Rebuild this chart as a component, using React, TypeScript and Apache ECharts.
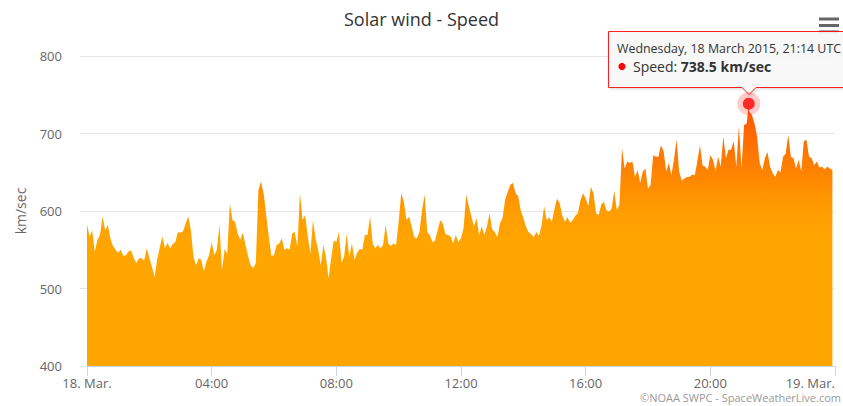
import React, { useEffect, useRef } from 'react';
import * as echarts from 'echarts';

const chartTitle = 'Solar wind - Speed';
const yAxisName = 'km/sec';
const seriesName = 'Speed';
const unit = 'km/sec';
const creditsText = '\u00A9NOAA SWPC - SpaceWeatherLive.com';
const tooltipHeader = 'Wednesday, 18 March 2015, 21:14 UTC';

// x axis in minutes since 18 March 2015 00:00 UTC
const xTickLabels = ['18. Mar.', '04:00', '08:00', '12:00', '16:00', '20:00', '19. Mar.'];
const xTickStepMinutes = 240;
const yMin = 400;
const yMax = 800;
const yStep = 100;

// 5-minute solar wind speed readings (km/sec), 00:00 .. 23:55
const stepMinutes = 5;
const speed = [
  583, 567, 575, 547, 563, 569, 593, 575, 582, 565, 555, 550,
  546, 550, 542, 543, 548, 549, 539, 533, 539, 539, 536, 552,
  540, 528, 515, 537, 553, 567, 552, 559, 552, 557, 560, 573,
  572, 574, 584, 593, 575, 541, 530, 539, 537, 522, 535, 543,
  560, 543, 550, 582, 524, 551, 545, 610, 588, 586, 571, 563,
  572, 556, 542, 530, 526, 533, 627, 638, 623, 595, 567, 542,
  543, 556, 558, 565, 550, 552, 550, 571, 573, 554, 623, 588,
  595, 567, 545, 588, 565, 550, 530, 556, 541, 513, 539, 562,
  560, 573, 533, 541, 571, 541, 558, 537, 546, 551, 550, 569,
  569, 593, 558, 552, 556, 552, 556, 582, 558, 555, 558, 556,
  586, 623, 612, 588, 593, 580, 566, 565, 573, 601, 621, 573,
  569, 560, 562, 575, 588, 584, 570, 569, 567, 558, 569, 560,
  565, 578, 621, 606, 593, 580, 591, 569, 580, 569, 580, 597,
  576, 573, 566, 584, 591, 615, 625, 634, 636, 623, 619, 601,
  591, 580, 573, 570, 566, 573, 568, 581, 606, 588, 592, 586,
  603, 616, 610, 594, 586, 592, 585, 588, 594, 597, 614, 623,
  616, 606, 631, 623, 597, 595, 608, 612, 601, 599, 603, 626,
  601, 608, 681, 655, 664, 662, 664, 644, 653, 636, 651, 655,
  629, 634, 672, 670, 670, 685, 677, 651, 662, 646, 666, 692,
  651, 639, 642, 644, 644, 647, 646, 664, 685, 659, 657, 653,
  672, 666, 652, 670, 657, 696, 668, 679, 679, 690, 657, 709,
  655, 711, 713, 728, 724, 713, 696, 662, 653, 668, 676, 657,
  649, 644, 653, 650, 670, 674, 698, 670, 668, 655, 666, 651,
  690, 692, 670, 668, 659, 664, 656, 657, 654, 657, 655, 653,
];

// highlighted reading (tooltip)
const peakMinute = 21 * 60 + 14;
const peakSpeed = 738.5;

const FONT = '"Open Sans", "DejaVu Sans", sans-serif';

export default function App() {
  const ref = useRef<HTMLDivElement>(null);

  useEffect(() => {
    if (!ref.current) return;
    const chart = echarts.init(ref.current, undefined, { renderer: 'svg' });

    const points: [number, number][] = speed.map((v, k) => [k * stepMinutes, v] as [number, number]);
    points.push([peakMinute, peakSpeed]);
    points.sort((a, b) => a[0] - b[0]);

    const areaGradient = {
      type: 'linear', x: 0, y: 0, x2: 0, y2: 1,
      colorStops: [
        { offset: 0, color: '#ff5400' },
        { offset: 0.12, color: '#ff6a00' },
        { offset: 0.27, color: '#ff8500' },
        { offset: 0.41, color: '#ff9d00' },
        { offset: 0.53, color: '#ffa500' },
        { offset: 1, color: '#ffa500' },
      ],
    };

    chart.setOption({
      animation: false,
      backgroundColor: '#ffffff',
      textStyle: { fontFamily: FONT },
      title: {
        text: chartTitle,
        left: 'center',
        top: 5,
        textStyle: { fontFamily: FONT, fontSize: 18, fontWeight: 'normal', color: '#333333' },
      },
      grid: { left: 87, right: 8, top: 56, bottom: 40, containLabel: false },
      xAxis: {
        type: 'value',
        min: 0,
        max: xTickStepMinutes * (xTickLabels.length - 1),
        interval: xTickStepMinutes,
        axisLine: { show: true, lineStyle: { color: '#ccd6eb', width: 1 } },
        axisTick: { show: true, length: 10, lineStyle: { color: '#ccd6eb' } },
        splitLine: { show: false },
        axisLabel: {
          margin: 10,
          color: '#666666',
          fontSize: 13,
          fontFamily: FONT,
          alignMaxLabel: 'right',
          formatter: (v: number) => xTickLabels[Math.round(v / xTickStepMinutes)] ?? '',
        },
      },
      yAxis: {
        type: 'value',
        min: yMin,
        max: yMax,
        interval: yStep,
        name: yAxisName,
        nameLocation: 'middle',
        nameRotate: 90,
        nameGap: 60,
        nameTextStyle: { color: '#666666', fontSize: 14, fontFamily: FONT },
        axisLine: { show: false },
        axisTick: { show: true, length: 7, lineStyle: { color: '#e6e6e6' } },
        splitLine: { show: true, lineStyle: { color: '#e6e6e6', width: 1 } },
        axisLabel: { margin: 25, color: '#666666', fontSize: 13, fontFamily: FONT },
      },
      series: [
        {
          name: seriesName,
          type: 'line',
          data: points,
          showSymbol: false,
          symbol: 'none',
          lineStyle: { width: 0 },
          itemStyle: { color: '#ffa500' },
          areaStyle: { color: areaGradient, opacity: 1 },
          silent: true,
          z: 2,
        },
        {
          type: 'scatter',
          data: [[peakMinute, peakSpeed]],
          symbolSize: 23,
          itemStyle: { color: 'rgba(255,0,0,0.25)' },
          silent: true,
          z: 3,
        },
        {
          type: 'scatter',
          data: [[peakMinute, peakSpeed]],
          symbolSize: 12,
          itemStyle: { color: '#ff0000' },
          silent: true,
          z: 4,
        },
      ],
    });

    const p = chart.convertToPixel({ gridIndex: 0 }, [peakMinute, peakSpeed]) as number[];
    const gx = Math.round(p[0]);
    const gy = Math.round(p[1]);

    chart.setOption({
      graphic: [
        {
          type: 'group',
          z: 10,
          children: [
            { type: 'rect', shape: { x: 819, y: 17.5, width: 20, height: 3 }, style: { fill: '#666666' } },
            { type: 'rect', shape: { x: 819, y: 24, width: 20, height: 3 }, style: { fill: '#666666' } },
            { type: 'rect', shape: { x: 819, y: 30.5, width: 20, height: 3 }, style: { fill: '#666666' } },
          ],
        },
        {
          type: 'text',
          right: 2,
          top: 392,
          z: 10,
          style: { text: creditsText, fill: '#999999', fontSize: 11, fontFamily: FONT },
        },
        {
          type: 'group',
          x: gx,
          y: gy,
          z: 20,
          children: [
            {
              type: 'polygon',
              shape: {
                points: [
                  [-140.5, -72.5], [120, -72.5], [120, -16.5], [7, -16.5], [0, -9.5], [-7, -16.5], [-140.5, -16.5],
                ],
              },
              style: {
                fill: 'rgba(249,249,249,0.92)',
                stroke: 'rgba(255,0,0,0.85)',
                lineWidth: 1,
                shadowBlur: 3,
                shadowOffsetX: 1,
                shadowOffsetY: 1,
                shadowColor: 'rgba(0,0,0,0.18)',
              },
            },
            {
              type: 'text',
              x: -132,
              y: -56,
              style: {
                text: tooltipHeader,
                fill: '#333333',
                fontSize: 12.4,
                fontFamily: FONT,
                verticalAlign: 'middle',
              },
            },
            { type: 'circle', shape: { cx: -127, cy: -37.5, r: 3.6 }, style: { fill: '#ff0000' } },
            {
              type: 'text',
              x: -116,
              y: -38,
              style: {
                text: `{a|${seriesName}: }{b|${peakSpeed} ${unit}}`,
                verticalAlign: 'middle',
                rich: {
                  a: { fontSize: 14, fontFamily: FONT, fill: '#333333', color: '#333333' },
                  b: { fontSize: 14, fontFamily: FONT, fontWeight: 'bold', fill: '#333333', color: '#333333' },
                },
              },
            },
          ],
        },
      ],
    });

    return () => {
      chart.dispose();
    };
  }, []);

  return (
    <div
      ref={ref}
      style={{ position: 'fixed', left: 0, top: 0, width: 843, height: 406, background: '#fff' }}
    />
  );
}
